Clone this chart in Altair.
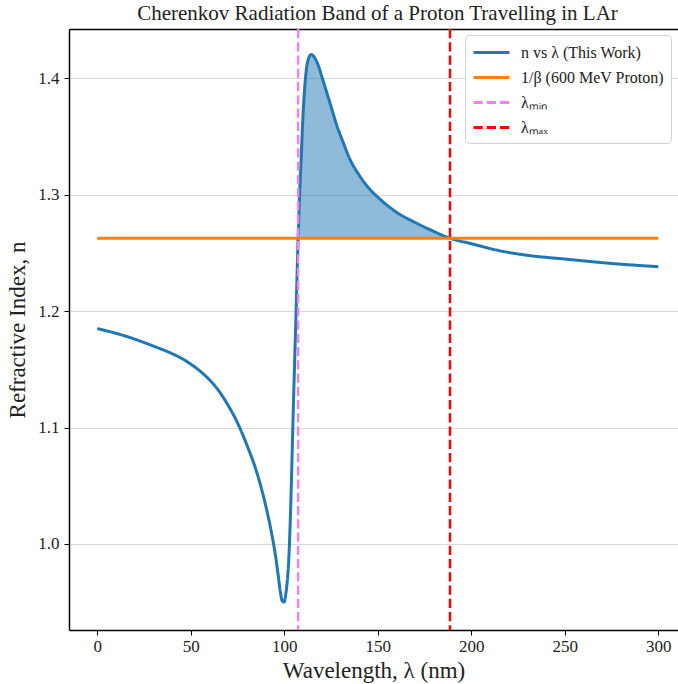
import altair as alt
import pandas as pd

# ---- data ----
lam = [0, 10, 20, 30, 40, 45, 50, 55, 60, 65, 70, 75, 80, 85, 89, 93, 95, 96.5, 97.8,
       98.9, 99.9, 100.9, 101.8, 102.5, 103.2, 104, 104.8, 105.6, 106.4, 107.4, 108.2,
       109, 110, 111, 112, 113, 114.2, 115.2, 116.5, 118, 120, 122.5, 125, 128,
       131.5, 135, 140, 144, 150, 155, 162, 169, 178, 188.6, 200, 215, 230, 250,
       275, 300]
n_vals = [1.185, 1.181, 1.176, 1.170, 1.1635, 1.1595, 1.1545, 1.1485, 1.141, 1.1315,
          1.119, 1.104, 1.085, 1.063, 1.040, 1.011, 0.993, 0.976, 0.960, 0.951, 0.950,
          0.958, 0.972, 0.990, 1.020, 1.065, 1.115, 1.160, 1.205, 1.263, 1.300,
          1.330, 1.368, 1.394, 1.410, 1.417, 1.4205, 1.420, 1.417, 1.412, 1.402,
          1.389, 1.376, 1.360, 1.345, 1.331, 1.317, 1.308, 1.298, 1.291, 1.283,
          1.277, 1.270, 1.2627, 1.258, 1.252, 1.248, 1.2448, 1.241, 1.2382]
inv_beta = 1.2627
hline_lam = [0, 300]
lam_min = 107.4
lam_max = 188.6

series_names = ["n vs λ (This Work)", "1/β (600 MeV Proton)", "λₘᵢₙ", "λₘₐₓ"]
series_colors = ["#1f77b4", "#ff7f0e", "#ee82ee", "#ff0000"]
x_ticks = [0, 50, 100, 150, 200, 250, 300]
y_ticks = [1.0, 1.1, 1.2, 1.3, 1.4]

curve = pd.DataFrame({"lam": lam, "n": n_vals, "series": series_names[0]})
hline = pd.DataFrame({"lam": hline_lam, "n": [inv_beta] * 2, "series": series_names[1]})
vlines = pd.DataFrame({"lam": [lam_min, lam_max], "series": series_names[2:]})
fill = curve[(curve.lam >= lam_min) & (curve.lam <= lam_max)].copy()
fill["nb"] = inv_beta

FONT = "Liberation Serif"
xscale = alt.Scale(domain=[-15.1, 310.5], nice=False, zero=False)
yscale = alt.Scale(domain=[0.926, 1.4425], nice=False, zero=False)
cscale = alt.Scale(domain=series_names, range=series_colors)
dscale = alt.Scale(domain=series_names, range=[[1, 0], [1, 0], [9.25, 4], [9.25, 4]])

legend = alt.Legend(
    orient="none", legendX=396, legendY=6, title=None,
    symbolType="M-2,0H2", symbolSize=324, symbolStrokeWidth=3, symbolOffset=9,
    labelFont=FONT, labelFontSize=16, labelColor="#222", labelOffset=19,
    fillColor="rgba(255,255,255,0.85)", strokeColor="#d0d0d0", cornerRadius=4,
    padding=7, rowPadding=6,
)

x_axis = alt.Axis(values=x_ticks, title="Wavelength, λ (nm)", format="d")
y_axis = alt.Axis(values=y_ticks, title="Refractive Index, n", format=".1f")
top_axis = alt.Axis(orient="top", labels=False, ticks=False, grid=False, title=None,
                    domainColor="black", domainWidth=1.5)

area = alt.Chart(fill).mark_area(color="#1f77b4", opacity=0.5, interpolate="monotone").encode(
    x=alt.X("lam:Q", scale=xscale, axis=None),
    y=alt.Y("n:Q", scale=yscale, axis=y_axis),
    y2="nb:Q",
)

line = alt.Chart(curve).mark_line(strokeWidth=3, interpolate="monotone").encode(
    x=alt.X("lam:Q", scale=xscale, axis=x_axis),
    y=alt.Y("n:Q", scale=yscale, axis=y_axis),
    color=alt.Color("series:N", scale=cscale, legend=legend),
    strokeDash=alt.StrokeDash("series:N", scale=dscale, legend=legend),
)

hl = alt.Chart(hline).mark_line(strokeWidth=3).encode(
    x=alt.X("lam:Q", scale=xscale, axis=None),
    y=alt.Y("n:Q", scale=yscale, axis=y_axis),
    color=alt.Color("series:N", scale=cscale, legend=legend),
    strokeDash=alt.StrokeDash("series:N", scale=dscale, legend=legend),
)

vl = alt.Chart(vlines).mark_rule(strokeWidth=2.5).encode(
    x=alt.X("lam:Q", scale=xscale, axis=None),
    color=alt.Color("series:N", scale=cscale, legend=legend),
    strokeDash=alt.StrokeDash("series:N", scale=dscale, legend=legend),
)

top = alt.Chart(hline).mark_point(opacity=0).encode(
    x=alt.X("lam:Q", scale=xscale, axis=top_axis),
)

chart = alt.layer(area, line, hl, vl, top).resolve_axis(x="independent").properties(
    width=609,
    height=601,
    autosize=alt.AutoSizeParams(type="none"),
    padding={"left": 69, "top": 29, "right": 0, "bottom": 54},
    title=alt.TitleParams(
        "Cherenkov Radiation Band of a Proton Travelling in LAr",
        font=FONT, fontSize=21, fontWeight="normal", color="#222",
        anchor="middle", offset=4, dx=4,
    ),
).configure_view(stroke=None).configure_axis(
    labelFont=FONT, labelFontSize=17, labelColor="#222",
    titleFont=FONT, titleFontSize=23, titleFontWeight="normal", titleColor="#222",
    domainColor="black", domainWidth=1.5, tickColor="black", tickSize=5, tickWidth=1,
    gridColor="#cfcfcf", gridWidth=0.8,
).configure_axisX(labelPadding=3, titlePadding=5).configure_axisY(labelPadding=5, titlePadding=8)

chart.save("out.html", embed_options={"renderer": "svg", "actions": False})
